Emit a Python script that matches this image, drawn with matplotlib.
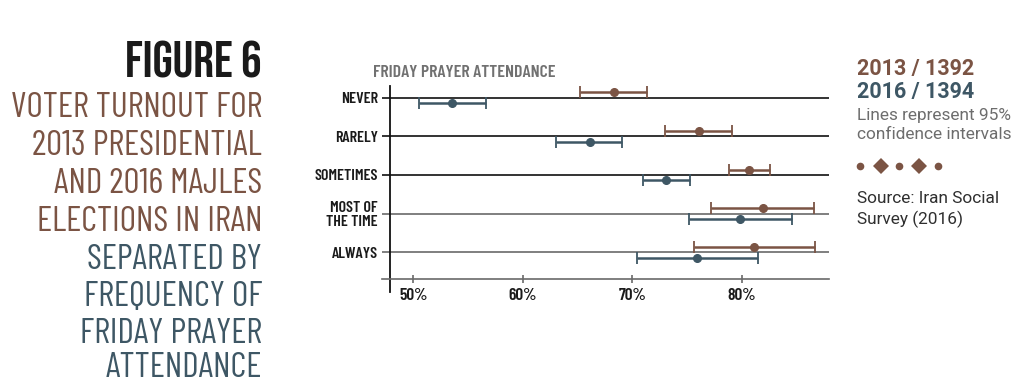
import matplotlib
matplotlib.use("Agg")
import matplotlib.pyplot as plt
from matplotlib.lines import Line2D
from matplotlib import font_manager as fm

# data (turnout %, 95% CI)
categories = ["NEVER", "RARELY", "SOMETIMES", "MOST OF\nTHE TIME", "ALWAYS"]
turnout_2013 = [68.3, 76.1, 80.7, 81.9, 81.1]
low_2013 = [65.2, 73.0, 78.8, 77.2, 75.6]
high_2013 = [71.3, 79.1, 82.6, 86.6, 86.7]
turnout_2016 = [53.5, 66.1, 73.1, 79.8, 75.9]
low_2016 = [50.5, 63.0, 71.0, 75.2, 70.4]
high_2016 = [56.6, 69.1, 75.3, 84.6, 81.5]
xticks = [50, 60, 70, 80]
xtick_labels = ["50%", "60%", "70%", "80%"]

BROWN = "#7b5444"
BLUE = "#3e5765"
COND = ["Barlow Condensed", "DejaVu Sans"]

# pick a sans family that actually ships a bold face
weights = {}
for f in fm.fontManager.ttflist:
    w = f.weight if isinstance(f.weight, int) else 400
    weights.setdefault(f.name, set()).add(w)
sans_name = "DejaVu Sans"
for cand in ["Work Sans", "Archivo", "Roboto", "Inter"]:
    if cand in weights and max(weights[cand]) >= 700 and 400 in weights[cand]:
        sans_name = cand
        break
SANS = [sans_name, "DejaVu Sans"]

W, H = 1021, 384
fig = plt.figure(figsize=(W / 100, H / 100), dpi=100)

# axes placed in pixel terms
left, right, top, bottom = 381.7, 828.7, 85.7, 291.7
ax = fig.add_axes([left / W, 1 - bottom / H, (right - left) / W, (bottom - top) / H])
ax.set_xlim(47.11, 87.94)
ax.set_ylim(5.02, -0.31)
ax.patch.set_alpha(0)

rows = list(range(len(categories)))
for i in rows:
    ax.axhline(i, color="#111111" if i < 3 else "#6a6a6a", lw=1.2, zorder=1)

off = 0.14
y13 = [r - off for r in rows]
y16 = [r + off for r in rows]
ax.errorbar(turnout_2013, y13,
            xerr=[[t - l for t, l in zip(turnout_2013, low_2013)],
                  [h - t for t, h in zip(turnout_2013, high_2013)]],
            fmt="o", color=BROWN, ms=5.5, capsize=4, elinewidth=1.8, capthick=1.3, zorder=3)
ax.errorbar(turnout_2016, y16,
            xerr=[[t - l for t, l in zip(turnout_2016, low_2016)],
                  [h - t for t, h in zip(turnout_2016, high_2016)]],
            fmt="o", color=BLUE, ms=5.5, capsize=4, elinewidth=1.8, capthick=1.3, zorder=3)

for s in ["top", "right"]:
    ax.spines[s].set_visible(False)
ax.spines["left"].set_position(("data", 47.9))
ax.spines["left"].set_color("#111111")
ax.spines["left"].set_linewidth(1.3)
ax.spines["bottom"].set_position(("data", 4.70))
ax.spines["bottom"].set_color("#6a6a6a")
ax.spines["bottom"].set_linewidth(1.2)

ax.set_xticks(xticks)
ax.set_xticklabels(xtick_labels, fontfamily=COND, fontweight="semibold", fontsize=12.5, color="#1a1a1a")
ax.tick_params(axis="x", direction="inout", length=6, width=1.2, color="#6a6a6a", pad=3)
ax.set_yticks(rows)
ax.set_yticklabels(categories, fontfamily=COND, fontweight="semibold", fontsize=11.5,
                   color="#1a1a1a", linespacing=0.95)
ax.tick_params(axis="y", length=0, pad=9)

fig.text(373 / W, 1 - 77 / H, "FRIDAY PRAYER ATTENDANCE", fontfamily=COND, fontweight="semibold",
         fontsize=12.8, color="#717171", ha="left", va="baseline")

# left-hand title block
fig.text(262 / W, 1 - 78 / H, "FIGURE 6", fontfamily=["Bebas Neue"] + COND, fontsize=37,
         color="#1a1a1a", ha="right", va="baseline")
sub_brown = ["VOTER TURNOUT FOR", "2013 PRESIDENTIAL", "AND 2016 MAJLES", "ELECTIONS IN IRAN"]
sub_blue = ["SEPARATED BY", "FREQUENCY OF", "FRIDAY PRAYER", "ATTENDANCE"]
base = [117, 155, 193, 231, 269, 306, 343, 377]
for line, b, c in zip(sub_brown + sub_blue, base, [BROWN] * 4 + [BLUE] * 4):
    fig.text(262 / W, 1 - b / H, line, fontfamily=COND, fontweight="normal", fontsize=25.5,
             color=c, ha="right", va="baseline")

# right-hand legend / notes
big = 15.5 if sans_name == "Roboto" else 14.5
small = 12.4 if sans_name == "Roboto" else 11.3
fig.text(857 / W, 1 - 75 / H, "2013 / 1392", fontfamily=SANS, fontweight="bold", fontsize=big,
         color=BROWN, va="baseline")
fig.text(857 / W, 1 - 98.3 / H, "2016 / 1394", fontfamily=SANS, fontweight="bold", fontsize=big,
         color=BLUE, va="baseline")
fig.text(857 / W, 1 - 120 / H, "Lines represent 95%", fontfamily=SANS, fontsize=small,
         color="#6d6d6d", va="baseline")
fig.text(857 / W, 1 - 139 / H, "confidence intervals", fontfamily=SANS, fontsize=small,
         color="#6d6d6d", va="baseline")
for x, m, s in [(860, "o", 5.5), (880.7, "D", 8), (899, "o", 5.5), (919, "D", 8), (937.7, "o", 5.5)]:
    fig.add_artist(Line2D([x / W], [1 - 165.7 / H], marker=m, ms=s, color=BROWN, mew=0,
                          transform=fig.transFigure))
fig.text(857 / W, 1 - 203.3 / H, "Source: Iran Social", fontfamily=SANS, fontsize=small,
         color="#2f2f2f", va="baseline")
fig.text(857 / W, 1 - 224 / H, "Survey (2016)", fontfamily=SANS, fontsize=small,
         color="#2f2f2f", va="baseline")

fig.savefig("out.png", dpi=100)
